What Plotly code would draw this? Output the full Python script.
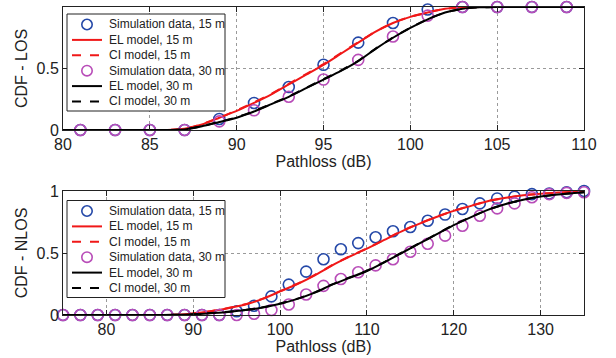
import plotly.graph_objects as go

# ---------------- data: LOS (top) ----------------
los_sim_x = [81, 83, 85, 87, 89, 91, 93, 95, 97, 99, 101, 103, 105, 107, 109]
los_sim_15 = [0, 0, 0, 0, 0.09, 0.22, 0.35, 0.53, 0.71, 0.87, 0.98, 1, 1, 1, 1]
los_sim_30 = [0, 0, 0, 0, 0.07, 0.16, 0.27, 0.41, 0.57, 0.76, 0.93, 1, 1, 1, 1]

los_mod_x = [80, 82, 84, 85, 86, 87, 88, 89, 90, 91, 92, 93, 94, 95, 96, 97, 98, 99,
             100, 101, 102, 103, 104, 105, 106, 108, 110]
los_el_15 = [0, 0, 0, 0, 0, 0.01, 0.045, 0.10, 0.155, 0.22, 0.29, 0.37, 0.45, 0.53,
             0.62, 0.71, 0.80, 0.87, 0.92, 0.955, 0.985, 0.997, 1, 1, 1, 1, 1]
los_ci_15 = [0, 0, 0, 0, 0, 0.012, 0.047, 0.10, 0.16, 0.225, 0.295, 0.375, 0.455, 0.535,
             0.625, 0.715, 0.80, 0.87, 0.92, 0.955, 0.985, 0.997, 1, 1, 1, 1, 1]
los_el_30 = [0, 0, 0, 0, 0, 0.005, 0.03, 0.065, 0.10, 0.15, 0.21, 0.27, 0.34, 0.41,
             0.48, 0.56, 0.66, 0.75, 0.83, 0.90, 0.955, 0.985, 0.997, 1, 1, 1, 1]
los_ci_30 = [0, 0, 0, 0, 0, 0.006, 0.032, 0.067, 0.103, 0.153, 0.213, 0.273, 0.343, 0.413,
             0.483, 0.563, 0.662, 0.752, 0.832, 0.90, 0.955, 0.985, 0.997, 1, 1, 1, 1]

# ---------------- data: NLOS (bottom) ----------------
nlos_sim_x = [75, 77, 79, 81, 83, 85, 87, 89, 91, 93, 95, 97, 99, 101, 103, 105, 107,
              109, 111, 113, 115, 117, 119, 121, 123, 125, 127, 129, 131, 133, 135]
nlos_sim_15 = [0, 0, 0, 0, 0, 0, 0, 0, 0, 0, 0.03, 0.075, 0.15, 0.245, 0.35, 0.45, 0.53,
               0.58, 0.627, 0.675, 0.71, 0.76, 0.81, 0.855, 0.90, 0.94, 0.955, 0.975,
               0.98, 0.99, 1.0]
nlos_sim_30 = [0, 0, 0, 0, 0, 0, 0, 0, 0, 0, 0, 0.01, 0.04, 0.085, 0.165, 0.235, 0.29,
               0.345, 0.40, 0.45, 0.51, 0.575, 0.64, 0.72, 0.80, 0.86, 0.90, 0.95,
               0.975, 0.985, 0.99]

nlos_mod_x = [75, 80, 85, 88, 90, 92, 94, 96, 98, 100, 102, 104, 106, 108, 110, 112,
              114, 116, 118, 120, 122, 124, 126, 128, 130, 132, 135]
nlos_el_15 = [0, 0, 0, 0.003, 0.012, 0.03, 0.055, 0.085, 0.13, 0.19, 0.25, 0.32, 0.40,
              0.47, 0.535, 0.605, 0.675, 0.735, 0.79, 0.84, 0.88, 0.92, 0.945, 0.965,
              0.978, 0.987, 0.995]
nlos_ci_15 = [0, 0, 0, 0.003, 0.013, 0.031, 0.056, 0.087, 0.132, 0.192, 0.253, 0.323,
              0.403, 0.473, 0.538, 0.607, 0.677, 0.737, 0.792, 0.841, 0.881, 0.92, 0.945,
              0.965, 0.978, 0.987, 0.995]
nlos_el_30 = [0, 0, 0, 0.002, 0.006, 0.015, 0.025, 0.04, 0.06, 0.09, 0.13, 0.18, 0.245,
              0.30, 0.355, 0.425, 0.50, 0.575, 0.65, 0.725, 0.79, 0.85, 0.895, 0.93,
              0.955, 0.972, 0.99]
nlos_ci_30 = [0, 0, 0, 0.002, 0.006, 0.016, 0.026, 0.041, 0.062, 0.092, 0.132, 0.183,
              0.247, 0.302, 0.357, 0.427, 0.502, 0.577, 0.652, 0.727, 0.791, 0.85, 0.895,
              0.93, 0.955, 0.972, 0.99]

names = ["Simulation data, 15 m", "EL model, 15 m", "CI model, 15 m",
         "Simulation data, 30 m", "EL model, 30 m", "CI model, 30 m"]
los_ticks_x = [80, 85, 90, 95, 100, 105, 110]
nlos_ticks_x = [80, 90, 100, 110, 120, 130]
y_ticks = [0, 0.5, 1]
y_ticktext = ["0", "0.5", "1"]

BLUE = "#2448a8"
PURPLE = "#b84cb8"
RED = "#f01818"
BLACK = "#000000"
AX = "#222222"
FONT = "Liberation Sans, Arial, sans-serif"

W, H = 616, 358
ML, MR, MT, MB = 63, 32, 7, 43


def px_x(p):
    return (p - ML) / (W - ML - MR)


def px_y(p):
    return (H - MB - p) / (H - MT - MB)


fig = go.Figure()

# legend entry styles (kind, colour, dash)
entry_styles = [("marker", BLUE, None), ("line", RED, "solid"), ("line", RED, "dash"),
                ("marker", PURPLE, None), ("line", BLACK, "solid"), ("line", BLACK, "dash")]


def add_panel(xa, ya, sx, s15, s30, mx, el15, ci15, el30, ci30):
    mk = dict(symbol="circle-open", size=11, line=dict(width=1.6))
    sp = dict(shape="spline", smoothing=0.6)
    fig.add_trace(go.Scatter(x=sx, y=s15, mode="markers", name=names[0],
                             marker=dict(color=BLUE, **mk), cliponaxis=False,
                             xaxis=xa, yaxis=ya))
    fig.add_trace(go.Scatter(x=mx, y=el15, mode="lines", name=names[1],
                             line=dict(color=RED, width=2, **sp), xaxis=xa, yaxis=ya))
    fig.add_trace(go.Scatter(x=mx, y=ci15, mode="lines", name=names[2],
                             line=dict(color=RED, width=2, dash="dash", **sp),
                             xaxis=xa, yaxis=ya))
    fig.add_trace(go.Scatter(x=sx, y=s30, mode="markers", name=names[3],
                             marker=dict(color=PURPLE, **mk), cliponaxis=False,
                             xaxis=xa, yaxis=ya))
    fig.add_trace(go.Scatter(x=mx, y=el30, mode="lines", name=names[4],
                             line=dict(color=BLACK, width=2, **sp), xaxis=xa, yaxis=ya))
    fig.add_trace(go.Scatter(x=mx, y=ci30, mode="lines", name=names[5],
                             line=dict(color=BLACK, width=2, dash="dash", **sp),
                             xaxis=xa, yaxis=ya))


add_panel("x", "y", los_sim_x, los_sim_15, los_sim_30, los_mod_x,
          los_el_15, los_ci_15, los_el_30, los_ci_30)
add_panel("x2", "y2", nlos_sim_x, nlos_sim_15, nlos_sim_30, nlos_mod_x,
          nlos_el_15, nlos_ci_15, nlos_el_30, nlos_ci_30)

shapes = []
annotations = []


def add_legend(top, left=67, right=225, height=97, row0=10.5, step=15.4):
    shapes.append(dict(type="rect", xref="paper", yref="paper",
                       x0=px_x(left), x1=px_x(right), y0=px_y(top), y1=px_y(top + height),
                       fillcolor="white", line=dict(color=AX, width=1), layer="above"))
    for i, (kind, col, dash) in enumerate(entry_styles):
        yc = top + row0 + i * step
        if kind == "line":
            shapes.append(dict(type="line", xref="paper", yref="paper",
                               x0=px_x(left + 5), x1=px_x(left + 35),
                               y0=px_y(yc), y1=px_y(yc),
                               line=dict(color=col, width=2, dash=dash), layer="above"))
        else:
            shapes.append(dict(type="circle", xref="paper", yref="paper",
                               xsizemode="pixel", ysizemode="pixel",
                               xanchor=px_x(left + 20), yanchor=px_y(yc),
                               x0=-5.2, x1=5.2, y0=-5.2, y1=5.2,
                               line=dict(color=col, width=1.6), layer="above"))
        annotations.append(dict(text=names[i], xref="paper", yref="paper",
                                x=px_x(left + 40), y=px_y(yc), xanchor="left",
                                yanchor="middle", showarrow=False,
                                font=dict(family=FONT, size=12, color=AX)))


add_legend(top=14)
add_legend(top=200.5)

axis_common = dict(showline=True, linecolor=AX, linewidth=1, mirror="ticks",
                   ticks="inside", ticklen=5, tickcolor=AX, showgrid=True,
                   gridcolor="#9a9a9a", griddash="dot", gridwidth=1, zeroline=False,
                   automargin=False,
                   tickfont=dict(family=FONT, size=16, color=AX))
title_font = dict(family=FONT, size=16, color=AX)

fig.update_layout(
    width=W, height=H,
    margin=dict(l=ML, r=MR, t=MT, b=MB),
    paper_bgcolor="white", plot_bgcolor="white",
    showlegend=False,
    shapes=shapes, annotations=annotations,
    xaxis=dict(domain=[0, 1], anchor="y", range=[80, 110], tickvals=los_ticks_x,
               title=dict(text="Pathloss (dB)", font=title_font, standoff=2), **axis_common),
    yaxis=dict(domain=[px_y(130), 1], anchor="x", range=[0, 1], tickvals=y_ticks,
               ticktext=y_ticktext,
               title=dict(text="CDF - LOS", font=title_font, standoff=4), **axis_common),
    xaxis2=dict(domain=[0, 1], anchor="y2", range=[75, 135], tickvals=nlos_ticks_x,
                title=dict(text="Pathloss (dB)", font=title_font, standoff=2), **axis_common),
    yaxis2=dict(domain=[0, px_y(191)], anchor="x2", range=[0, 1], tickvals=y_ticks,
                ticktext=y_ticktext,
                title=dict(text="CDF - NLOS", font=title_font, standoff=4), **axis_common),
)

fig.write_html("out.html")
